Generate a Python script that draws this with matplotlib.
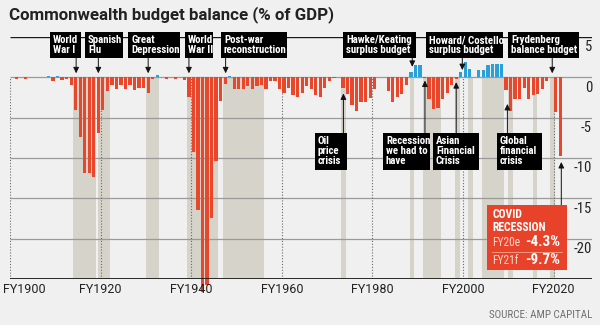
import numpy as np
import matplotlib
matplotlib.use("Agg")
import matplotlib.pyplot as plt
from matplotlib import font_manager
from matplotlib.patches import Rectangle
from matplotlib.transforms import blended_transform_factory

# --- data ---
years = np.arange(1901, 2022)
balance = np.array([
    -0.2, 0.0, -0.2, 0.0, 0.0, 0.0, 0.0, 0.15, -0.5, 0.15,        # 1901-1910
    -0.3, -0.2, -1.0, -4.0, -7.4, -11.9, -11.9, -12.3, -6.9, -4.0,  # 1911-1920
    -1.7, -1.0, -1.5, -1.0, -1.5, -1.0, -1.6, -1.3, -1.3, -1.9,     # 1921-1930
    -0.25, 0.3, 0.1, -0.2, 0.1, -0.2, 0.0, -0.3, -2.5, -9.3,        # 1931-1940
    -16.4, -26.6, -25.8, -17.4, -10.4, -2.9, -0.8, 0.2, -1.4, -1.4, # 1941-1950
    -1.4, -1.1, -1.4, -1.1, -0.95, -1.5, -0.5, -0.4, -1.4, -2.0,    # 1951-1960
    -1.3, -2.2, -2.4, -2.0, -1.1, -1.5, -2.2, -2.4, -1.3, -0.5,     # 1961-1970
    -0.1, 0.0, -1.3, -2.1, -3.4, -4.2, -3.0, -3.1, -2.6, -1.4,      # 1971-1980
    0.0, 0.1, -1.7, -3.1, -2.5, -2.1, -0.9, 0.6, 1.5, 1.5,          # 1981-1990
    -0.1, -2.7, -3.9, -3.8, -2.7, -1.9, -1.0, -0.2, 0.7, 1.9,       # 1991-2000
    1.0, 0.0, 0.9, 0.9, 1.5, 1.6, 1.6, 1.7, -1.6, -4.2,             # 2001-2010
    -2.7, -2.7, -1.3, -2.7, -2.2, -2.1, -1.4, -0.5, 0.0, -4.3,      # 2011-2020
    -9.7,                                                           # 2021
])

recession_bands = [
    (1914.0, 1919.0), (1919.4, 1922.1), (1930.0, 1933.0), (1939.0, 1946.0),
    (1947.0, 1956.1), (1973.1, 1974.2), (1988.3, 1989.2), (1991.2, 1995.1),
    (1998.2, 1999.3), (2001.1, 2002.1), (2004.1, 2009.0), (2009.9, 2011.0),
    (2015.5, 2016.4), (2019.2, 2020.3),
]

tick_years = [1900, 1920, 1940, 1960, 1980, 2000, 2020]
tick_labels = ["FY1900", "FY1920", "FY1940", "FY1960", "FY1980", "FY2000", "FY2020"]
y_levels = [5, 0, -5, -10, -15, -20]

# label text, year the arrow points at, value at arrow tip
top_notes = [
    ("World\nWar I", 1914.6, 0.5),
    ("Spanish\nFlu", 1919.5, 0.5),
    ("Great\nDepression", 1930.5, 0.5),
    ("World\nWar II", 1939.5, 0.5),
    ("Post-war\nreconstruction", 1947.6, 0.5),
    ("Hawke/Keating\nsurplus budget", 1988.8, 1.3),
    ("Howard/ Costello\nsurplus budget", 1999.85, 0.9),
    ("Frydenberg\nbalance budget", 2019.7, 0.5),
]
bottom_notes = [
    ("Oil\nprice\ncrisis", 1973.6, -2.0),
    ("Recession\nwe had to\nhave", 1991.6, -0.4),
    ("Asian\nFinancial\nCrisis", 1998.5, -0.6),
    ("Global\nfinancial\ncrisis", 2009.8, -3.3),
]
covid_rows = [("FY20e", "-4.3%"), ("FY21f", "-9.7%")]

# --- layout (pixels of a 600x328 canvas) ---
W, H = 600, 328
AX_L, AX_R, AX_T, AX_B = 10, 592, 37, 279
PX_PER_YEAR = 4.53
top_boxes = [(50, 81), (85, 123), (128, 180), (185, 213), (221, 287),
             (343, 416), (426, 503), (508, 579)]
bottom_boxes = [(315, 347), (383, 430), (433, 479), (497, 542)]

RED = "#E8472B"
BLUE = "#2A9FD8"
BAND = "#D6D3CA"
BG = "#F0F0F0"

# pick a narrow face if one is installed, else the most compact regular one
entries = font_manager.fontManager.ttflist
names = {f.name for f in entries}
label_font = dict(family=["Lato", "DejaVu Sans"])
note_size = 7.0
for nm in ["Liberation Sans Narrow", "Roboto Condensed", "Open Sans Condensed"]:
    if nm in names:
        label_font = dict(family=[nm, "DejaVu Sans"])
        note_size = 7.8
        break
else:
    if any(f.name == "DejaVu Sans" and str(f.stretch) in ("condensed", "semi-condensed", "500", "400")
           and "Condensed" in f.fname for f in entries):
        label_font = dict(family=["DejaVu Sans"], stretch="condensed")
        note_size = 7.2
tick_font = dict(family=["Roboto", "DejaVu Sans"])


def fx(px):
    return px / W


def fy(py):
    return 1 - py / H


def val(py):
    return 5 - (py - AX_T) * 30 / (AX_B - AX_T)


fig = plt.figure(figsize=(6, 3.28), dpi=100, facecolor=BG)
ax = fig.add_axes([fx(AX_L), fy(AX_B), (AX_R - AX_L) / W, (AX_B - AX_T) / H])
xmax = 1900 + (AX_R - AX_L) / PX_PER_YEAR
ax.set_xlim(1900, xmax)
ax.set_ylim(-25, 5)
ax.axis("off")

for a, b in recession_bands:
    ax.add_patch(Rectangle((a, -25), b - a, 25, fc=BAND, ec="none", zorder=1))

ax.hlines([v for v in y_levels if v != 5], 1900, xmax, color="#9a9a9a", lw=0.9, zorder=2)
ax.hlines(5, 1900, xmax, color="#1a1a1a", lw=1.0, zorder=2)
ax.vlines(tick_years, -25, 0, colors="#6a6a6a", linestyles=(0, (1, 1.6)), lw=0.8, zorder=2)

colors = np.where(balance >= 0, BLUE, RED)
ax.bar(years + 0.5, balance, width=0.72, color=colors, zorder=3, clip_on=False)
ax.hlines(-25, 1900, xmax, color="#1a1a1a", lw=1.3, zorder=4)

trans = blended_transform_factory(ax.transAxes, ax.transData)
for v in y_levels:
    ax.text(1.0, v - 1.3, str(v), transform=trans, ha="right", va="center",
            fontsize=10.5, color="#222222", **label_font)

for i, (yr, lab) in enumerate(zip(tick_years, tick_labels)):
    if i == 0:
        ax.text(yr - 1.5, -26.25, lab, ha="left", va="center", fontsize=9,
                color="#222222", **tick_font)
    else:
        ax.text(yr, -26.25, lab, ha="center", va="center", fontsize=9,
                color="#222222", **tick_font)

arrow = dict(arrowstyle="-|>,head_length=0.35,head_width=0.17", color="#111111",
             lw=0.7, shrinkA=0, shrinkB=0)


def box(l, t, r, b, color="black"):
    fig.add_artist(Rectangle((fx(l), fy(b)), fx(r) - fx(l), fy(t) - fy(b),
                             transform=fig.transFigure, fc=color, ec="none", zorder=5))


for (txt, x, tip), (l, r) in zip(top_notes, top_boxes):
    box(l, 32, r, 58)
    fig.text(fx(l + 3), fy(35), txt, ha="left", va="top", color="white",
             fontsize=note_size, fontweight="bold", linespacing=1.0, zorder=6, **label_font)
    ax.annotate("", xy=(x, tip), xytext=(x, val(58)), arrowprops=arrow, zorder=4)

for (txt, x, tip), (l, r) in zip(bottom_notes, bottom_boxes):
    box(l, 133, r, 170)
    fig.text(fx(l + 3), fy(136), txt, ha="left", va="top", color="white",
             fontsize=note_size, fontweight="bold", linespacing=1.0, zorder=6, **label_font)
    ax.annotate("", xy=(x, tip), xytext=(x, val(133)), arrowprops=arrow, zorder=4)

# COVID box
box(487, 205, 567, 270, color="#E8432A")
ax.annotate("", xy=(2021.7, -10.5), xytext=(2021.7, val(205)), arrowprops=arrow, zorder=4)
fig.text(fx(492.5), fy(208.5), "COVID\nRECESSION", ha="left", va="top", color="white",
         fontsize=note_size + 0.6, fontweight="bold", linespacing=0.95, zorder=6, **label_font)
for (lab, num), cy in zip(covid_rows, [242, 260]):
    fig.text(fx(492.5), fy(cy), lab, ha="left", va="center", color="#FFD8CC",
             fontsize=8.3, zorder=6, **label_font)
    fig.text(fx(525), fy(cy), num, ha="left", va="center", color="white",
             fontsize=11, fontweight="bold", zorder=6, **label_font)
fig.add_artist(plt.Line2D([fx(492), fx(562)], [fy(252), fy(252)], transform=fig.transFigure,
                          color="#F7A48F", lw=0.6, zorder=6))

fig.text(fx(9), fy(15), "Commonwealth budget balance (% of GDP)", ha="left", va="center",
         fontsize=12.2, fontweight="bold", color="#222222", family=["Roboto", "DejaVu Sans"])
fig.text(fx(592), fy(315), "SOURCE: AMP CAPITAL", ha="right", va="center",
         fontsize=7.9, color="#707070", **label_font)
fig.add_artist(Rectangle((0, 0), 1, 3 / H, transform=fig.transFigure, fc="white", ec="none"))

fig.savefig("out.png", dpi=100, facecolor=BG)
